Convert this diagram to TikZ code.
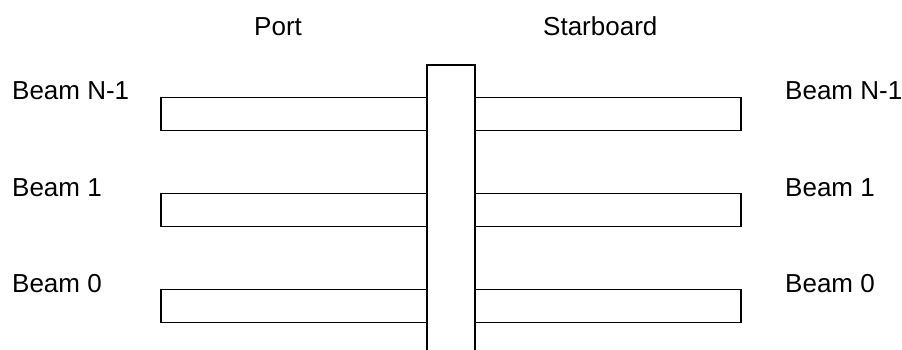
\documentclass[tikz,border=0pt]{standalone}
\usepackage{fontspec}
\setmainfont{Liberation Sans}
\begin{document}
\begin{tikzpicture}[x=1pt,y=1pt,
  box/.style={draw=black,line width=1.2pt,rectangle,inner sep=0pt,fill=white},
  beam/.style={box,minimum width=266pt,minimum height=32.5pt},
  lbl/.style={anchor=base west,inner sep=0pt,font=\fontsize{26pt}{30pt}\selectfont}]
\useasboundingbox (0,0) rectangle (902,350);
% beams (y measured upward: 350 - pixel y)
\node[beam] (pN) at (294,236) {};
\node[beam] (p1) at (294,140) {};
\node[beam] (p0) at (294,44) {};
\node[beam] (sN) at (608,236) {};
\node[beam] (s1) at (608,140) {};
\node[beam] (s0) at (608,44) {};
% central column
\node[box,minimum width=48pt,minimum height=300pt] (col) at (451,135) {};
% labels
\node[lbl] (port) at (254,314.3) {Port};
\node[lbl] (star) at (543,314.3) {Starboard};
\node[lbl] (lN) at (12,250) {Beam N-1};
\node[lbl] (l1) at (12,153.3) {Beam 1};
\node[lbl] (l0) at (12,57.3) {Beam 0};
\node[lbl] (rN) at (785,250) {Beam N-1};
\node[lbl] (r1) at (785,153.3) {Beam 1};
\node[lbl] (r0) at (785,57.3) {Beam 0};
\end{tikzpicture}
\end{document}
